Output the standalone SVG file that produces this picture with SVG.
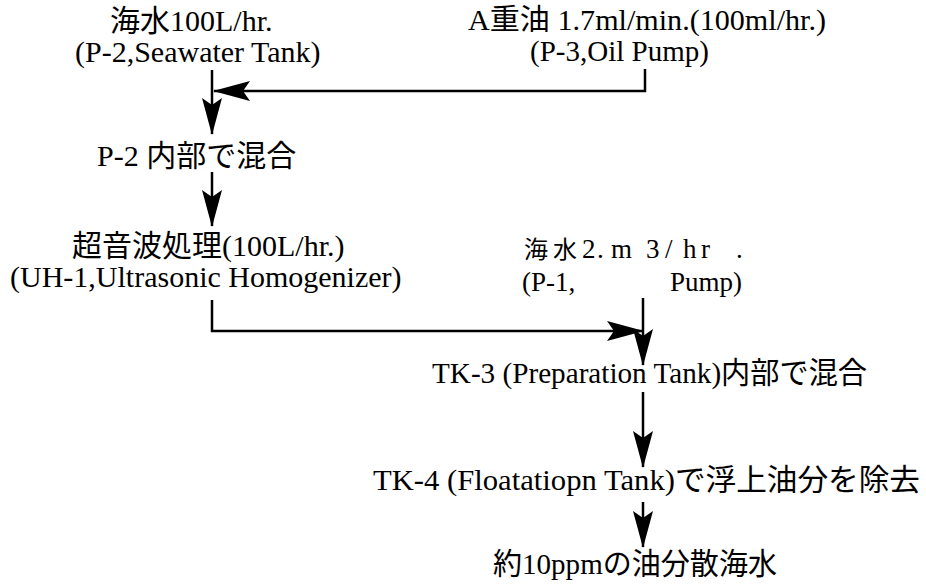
<svg xmlns="http://www.w3.org/2000/svg" width="926" height="585" viewBox="0 0 926 585">
<defs>
<style>
text{font-family:"Liberation Serif","Noto Sans CJK JP",serif;font-size:30px;fill:#000}
.m{font-size:29px}
.s{font-size:27px}
.j{font-size:24px}
.c{fill:none;stroke:#000;stroke-width:2.5}
</style>
<marker id="ah" viewBox="-37 -11 39 22" refX="0" refY="0" markerWidth="39" markerHeight="22" markerUnits="userSpaceOnUse" orient="auto">
<path d="M1,0 L-36,-10 L-29,0 L-36,10 Z" fill="#000"/>
</marker>
</defs>
<rect width="926" height="585" fill="#fff"/>
<g id="seawater">
<text x="110" y="31">海水100L/hr.</text>
<text x="75" y="62">(P-2,Seawater Tank)</text>
</g>
<g id="oil">
<text class="m" x="468" y="30" textLength="358" lengthAdjust="spacingAndGlyphs">A重油 1.7ml/min.(100ml/hr.)</text>
<text class="m" x="530" y="61">(P-3,Oil Pump)</text>
</g>
<g id="mix1">
<text x="97" y="166">P-2 内部で混合</text>
</g>
<g id="ultrasonic">
<text x="72" y="256">超音波処理(100L/hr.)</text>
<text x="10" y="287">(UH-1,Ultrasonic Homogenizer)</text>
</g>
<g id="p1">
<text class="j" y="258" x="524 553">海水</text>
<text class="s" y="258" x="582 597 611 646 665 683 701 736">2.m3/hr.</text>
<text class="s" x="522" y="291">(P-1,</text>
<text class="s" x="670" y="291">Pump)</text>
</g>
<g id="tk3">
<text x="432" y="383" textLength="435" lengthAdjust="spacingAndGlyphs">TK-3 (Preparation Tank)内部で混合</text>
</g>
<g id="tk4">
<text x="373" y="490" textLength="547" lengthAdjust="spacingAndGlyphs">TK-4 (Floatatiopn Tank)で浮上油分を除去</text>
</g>
<g id="out">
<text x="493" y="574" textLength="284" lengthAdjust="spacingAndGlyphs">約10ppmの油分散海水</text>
</g>
<g id="connectors">
<path class="c" d="M645,69 V91 H214" marker-end="url(#ah)"/>
<path class="c" d="M212,70 V134" marker-end="url(#ah)"/>
<path class="c" d="M212,172 V226" marker-end="url(#ah)"/>
<path class="c" d="M212,300 V331 H643" marker-end="url(#ah)"/>
<path class="c" d="M643,298 V365" marker-end="url(#ah)"/>
<path class="c" d="M643,392 V467" marker-end="url(#ah)"/>
<path class="c" d="M643,502 V547" marker-end="url(#ah)"/>
</g>
</svg>
